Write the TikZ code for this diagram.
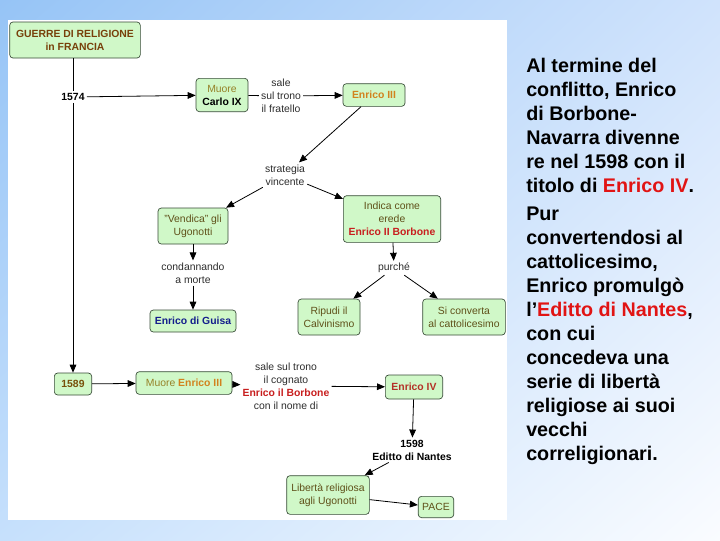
\documentclass[tikz,border=0pt]{standalone}
\usepackage{fontspec}
\setmainfont{Liberation Sans}
\usetikzlibrary{arrows.meta}
\usetikzlibrary{shadings}

\definecolor{bgUL}{RGB}{150,196,246}
\definecolor{bgUR}{RGB}{208,227,252}
\definecolor{bgLL}{RGB}{198,224,252}
\definecolor{bgLR}{RGB}{250,252,255}
\definecolor{boxfill}{RGB}{208,248,200}
\definecolor{boxline}{RGB}{55,75,55}
\definecolor{boxtext}{RGB}{95,80,25}
\definecolor{linktext}{RGB}{45,45,45}
\definecolor{titlebrown}{RGB}{120,64,10}
\definecolor{muoreolive}{RGB}{150,130,40}
\definecolor{enricoorange}{RGB}{210,130,30}
\definecolor{borbonered}{RGB}{200,30,30}
\definecolor{guisablue}{RGB}{20,30,140}
\definecolor{annobrown}{RGB}{120,80,10}
\definecolor{quartored}{RGB}{180,50,40}
\definecolor{testored}{RGB}{225,20,20}

\newcommand\diagfont{\fontsize{7.8}{9.75}\selectfont}

\begin{document}
\begin{tikzpicture}[x=0.75pt, y=-0.75pt,
            concept/.style={draw=boxline, fill=boxfill, line width=.5pt, rounded corners=2.5pt,
                align=center, font=\diagfont, text=boxtext, inner xsep=3pt, inner ysep=2pt},
            link/.style={align=center, font=\diagfont, text=linktext, inner sep=1.5pt},
            arrow/.style={-{Triangle[length=6pt, width=5pt]}, line width=.6pt},
            connect/.style={line width=.6pt},
        ]
            \useasboundingbox (0,0) rectangle (720,540);
            \shade[upper left=bgUL, upper right=bgUR, lower left=bgLL, lower right=bgLR]
                (0,0) rectangle (720,540);
            \fill[white] (8,20) rectangle (507,520);

            % mappa concettuale
            \node[concept, text=titlebrown, font=\diagfont\bfseries, minimum width=98pt, minimum height=27pt]
                (titolo) at (75,40) {GUERRE DI RELIGIONE\\in FRANCIA};
            \node[font=\diagfont\bfseries, inner sep=1.5pt] (anno1574) at (73,97) {1574};
            \node[concept, text=black, minimum width=39pt, minimum height=25pt]
                (carlo) at (222,95) {\textcolor{muoreolive}{Muore}\\\textbf{Carlo IX}};
            \node[link] (fratello) at (281,96) {sale\\sul trono\\il fratello};
            \node[concept, text=enricoorange, font=\diagfont\bfseries, minimum width=46.5pt, minimum height=17pt]
                (enricoIII) at (374,95) {Enrico III};
            \node[link] (strategia) at (285,175) {strategia\\vincente};
            \node[concept, minimum width=52.5pt, minimum height=27pt]
                (vendica) at (193,226) {"Vendica" gli\\Ugonotti};
            \node[concept, minimum width=73pt, minimum height=35pt]
                (erede) at (392,219) {Indica come\\erede\\\textcolor{borbonered}{\bfseries Enrico II Borbone}};
            \node[link] (condanna) at (193,273) {condannando\\a morte};
            \node[concept, text=guisablue, font=\diagfont\bfseries, minimum width=64.5pt, minimum height=16.5pt]
                (guisa) at (193,321) {Enrico di Guisa};
            \node[link] (purche) at (394,268) {purché};
            \node[concept, minimum width=46.5pt, minimum height=27pt]
                (ripudi) at (329,317) {Ripudi il\\Calvinismo};
            \node[concept, minimum width=62pt, minimum height=27pt]
                (converta) at (464,317) {Si converta\\al cattolicesimo};
            \node[concept, text=annobrown, font=\diagfont\bfseries, minimum width=28pt, minimum height=16.5pt]
                (anno1589) at (73,384) {1589};
            \node[concept, minimum width=72pt, minimum height=17pt]
                (muoreIII) at (184,383) {\textcolor{muoreolive}{Muore} \textcolor{enricoorange}{\bfseries Enrico III}};
            \node[link] (cognato) at (286,386)
                {sale sul trono\\il cognato\\\textcolor{borbonered}{\bfseries Enrico il Borbone}\\con il nome di};
            \node[concept, text=quartored, font=\diagfont\bfseries, minimum width=43pt, minimum height=18pt]
                (enricoIV) at (414,387) {Enrico IV};
            \node[link, text=black, font=\diagfont\bfseries] (nantes) at (412,450) {1598\\Editto di Nantes};
            \node[concept, minimum width=62pt, minimum height=29pt]
                (liberta) at (328,495) {Libertà religiosa\\agli Ugonotti};
            \node[concept, minimum width=26pt, minimum height=16pt] (pace) at (436,507) {PACE};

            \draw[connect] (titolo.south -| anno1574) -- (anno1574);
            \draw[arrow] (anno1574) -- (anno1589);
            \draw[arrow] (anno1574) -- (carlo);
            \draw[connect] (carlo) -- (fratello);
            \draw[arrow] (fratello) -- (enricoIII);
            \draw[arrow] (enricoIII) -- (strategia);
            \draw[arrow] (strategia) -- (vendica);
            \draw[arrow] (strategia) -- (erede);
            \draw[arrow] (vendica) -- (condanna);
            \draw[arrow] (condanna) -- (guisa);
            \draw[arrow] (erede) -- (purche);
            \draw[arrow] (purche) -- (ripudi);
            \draw[arrow] (purche) -- (converta);
            \draw[arrow] (anno1589) -- (muoreIII);
            \draw[arrow] (muoreIII) -- (cognato);
            \draw[arrow] (cognato) -- (enricoIV);
            \draw[arrow] (enricoIV) -- (nantes);
            \draw[arrow] (nantes) -- (liberta);
            \draw[arrow] (liberta) -- (pace);

            % testo a destra
            \node[anchor=north west, align=left, inner sep=0pt,
                font=\fontsize{14.8}{18}\selectfont\bfseries] (testo) at (526,58)
                {Al termine del\\conflitto, Enrico\\di Borbone-\\Navarra divenne\\re nel 1598 con il\\
                 titolo di \textcolor{testored}{Enrico IV}.\\[3pt]
                 Pur\\convertendosi al\\cattolicesimo,\\Enrico promulgò\\
                 l’\textcolor{testored}{Editto di Nantes},\\con cui\\concedeva una\\serie di libertà\\
                 religiose ai suoi\\vecchi\\correligionari.};
        \end{tikzpicture}
\end{document}
